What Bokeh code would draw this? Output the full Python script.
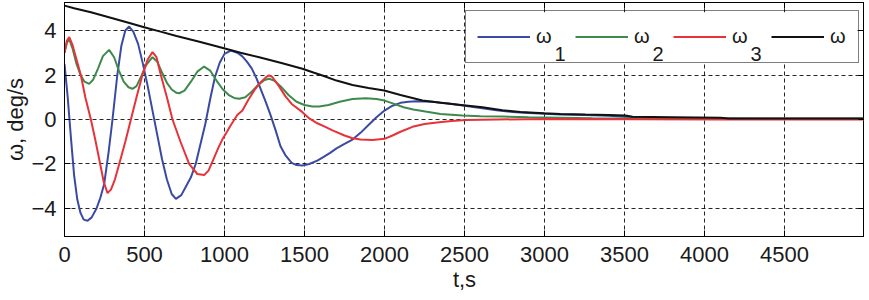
from bokeh.plotting import figure
from bokeh.models import (Range1d, LinearAxis, Legend, LegendItem, Label,
                          FixedTicker, BoxAnnotation)
from bokeh.embed import file_html
from bokeh.resources import INLINE

# ---------------- data ----------------
t_w1 = [0, 20, 40, 60, 80, 100, 120, 144, 170, 200, 225, 248, 275, 300, 330,
        355, 380, 404, 430, 460, 490, 520, 550, 580, 610, 640, 670, 696, 730,
        760, 790, 820, 850, 880, 910, 940, 970, 1000, 1040, 1080, 1110, 1140,
        1170, 1200, 1230, 1260, 1290, 1320, 1350, 1380, 1420, 1450, 1487, 1530,
        1580, 1620, 1660, 1700, 1750, 1800, 1850, 1900, 1950, 2000, 2050, 2100,
        2150, 2200, 2300, 2400, 2500, 2600, 2700, 2800, 2900, 3000, 3100, 3250,
        3400, 3500, 3600, 3800, 4100, 5000]
w1 = [2.5, 1.0, -0.8, -2.5, -3.6, -4.2, -4.5, -4.55, -4.4, -4.0, -3.5, -2.9,
      -1.5, 0.0, 2.0, 3.3, 4.0, 4.18, 3.95, 3.4, 2.5, 1.5, 0.4, -0.7, -1.8,
      -2.7, -3.35, -3.57, -3.4, -3.0, -2.6, -2.0, -1.1, -0.2, 0.9, 1.9, 2.55,
      2.95, 3.1, 3.0, 2.85, 2.6, 2.3, 1.85, 1.3, 0.75, 0.15, -0.5, -1.2, -1.6,
      -1.95, -2.05, -2.07, -2.0, -1.85, -1.68, -1.5, -1.3, -1.1, -0.9, -0.6,
      -0.25, 0.1, 0.4, 0.62, 0.75, 0.8, 0.82, 0.8, 0.72, 0.62, 0.52, 0.42,
      0.34, 0.29, 0.26, 0.23, 0.2, 0.17, 0.12, 0.07, 0.05, 0.04, 0.03]

t_w2 = [0, 15, 30, 50, 75, 100, 125, 154, 180, 210, 240, 279, 310, 340, 370,
        400, 425, 450, 480, 510, 550, 580, 610, 640, 670, 700, 717, 750, 790,
        830, 873, 910, 950, 990, 1030, 1060, 1092, 1130, 1170, 1210, 1250, 1279,
        1310, 1350, 1400, 1450, 1500, 1550, 1592, 1650, 1720, 1800, 1883, 1950,
        2000, 2060, 2120, 2180, 2256, 2350, 2487, 2600, 2737, 2900, 3100, 3300,
        3600, 4100, 5000]
w2 = [3.0, 3.45, 3.6, 3.2, 2.5, 2.0, 1.7, 1.6, 1.8, 2.3, 2.85, 3.13, 2.8, 2.2,
      1.7, 1.45, 1.38, 1.5, 1.95, 2.45, 2.8, 2.6, 2.1, 1.65, 1.35, 1.2, 1.18,
      1.3, 1.7, 2.15, 2.38, 2.2, 1.75, 1.35, 1.08, 0.97, 0.93, 1.0, 1.25, 1.55,
      1.78, 1.83, 1.75, 1.5, 1.1, 0.8, 0.65, 0.58, 0.58, 0.65, 0.8, 0.92,
      0.96, 0.92, 0.85, 0.7, 0.55, 0.45, 0.36, 0.25, 0.18, 0.15, 0.13, 0.1,
      0.08, 0.06, 0.05, 0.04, 0.03]

t_w3 = [0, 15, 30, 50, 75, 102, 130, 165, 195, 223, 245, 269, 290, 315, 342,
        380, 415, 450, 487, 520, 550, 575, 602, 640, 675, 725, 779, 830, 873,
        900, 930, 960, 990, 1008, 1040, 1080, 1112, 1150, 1190, 1230, 1260,
        1279, 1300, 1340, 1380, 1420, 1487, 1530, 1580, 1620, 1675, 1750, 1800,
        1850, 1925, 2000, 2050, 2100, 2175, 2250, 2342, 2420, 2508, 2700, 3000,
        4100, 5000]
w3 = [3.0, 3.55, 3.7, 3.35, 2.7, 2.0, 1.0, 0.0, -1.0, -2.0, -2.8, -3.31, -3.15,
      -2.7, -2.0, -1.0, 0.0, 1.0, 2.0, 2.7, 3.03, 2.8, 2.0, 1.0, 0.0, -1.0,
      -2.0, -2.45, -2.5, -2.3, -1.8, -1.3, -0.85, -0.64, -0.25, 0.2, 0.4, 0.9,
      1.35, 1.7, 1.9, 1.98, 1.9, 1.5, 1.05, 0.7, 0.33, 0.05, -0.17, -0.3,
      -0.49, -0.72, -0.84, -0.9, -0.92, -0.87, -0.72, -0.55, -0.33, -0.2,
      -0.12, -0.07, -0.02, 0.0, 0.02, 0.0, 0.0]

t_w = [0, 60, 165, 300, 400, 498, 600, 700, 831, 920, 1008, 1100, 1217, 1350,
       1487, 1560, 1612, 1700, 1800, 1900, 1998, 2100, 2237, 2350, 2508, 2612,
       2737, 2850, 2998, 3100, 3256, 3400, 3506, 3550, 3800, 4100, 4150, 5000]
w = [5.12, 5.0, 4.82, 4.55, 4.35, 4.15, 3.95, 3.75, 3.52, 3.35, 3.18, 3.0, 2.8,
     2.55, 2.28, 2.1, 1.98, 1.75, 1.55, 1.42, 1.3, 1.1, 0.85, 0.75, 0.63,
     0.55, 0.42, 0.34, 0.28, 0.25, 0.22, 0.2, 0.18, 0.12, 0.1, 0.08, 0.05, 0.05]

x_ticks = [0, 500, 1000, 1500, 2000, 2500, 3000, 3500, 4000, 4500]
y_ticks = [-4, -2, 0, 2, 4]
legend_names = ["ω", "ω", "ω", "ω"]
legend_subs = ["1", "2", "3"]
x_title = "t,s"
y_title = "ω, deg/s"

FONT = "Liberation Sans"
TXT = "#1a1a1a"
C_BLUE, C_GREEN, C_RED, C_BLACK = "#3a4aa3", "#3e8a4c", "#e8323a", "#111111"

p = figure(width=864, height=298, x_range=Range1d(0, 5000),
           y_range=Range1d(-5.26, 5.26), output_backend="svg",
           toolbar_location=None, min_border_left=62, min_border_right=0,
           min_border_top=2, min_border_bottom=62)

# white backing for the legend box (drawn above the grid, below the curves)
p.add_layout(BoxAnnotation(left=401, right=793, bottom=173, top=224,
                           left_units="screen", right_units="screen",
                           bottom_units="screen", top_units="screen",
                           fill_color="white", fill_alpha=1,
                           line_color=None, level="underlay"))

r1 = p.line(t_w1, w1, line_color=C_BLUE, line_width=2)
r2 = p.line(t_w2, w2, line_color=C_GREEN, line_width=2)
r3 = p.line(t_w3, w3, line_color=C_RED, line_width=2)
r4 = p.line(t_w, w, line_color=C_BLACK, line_width=2)

p.outline_line_color = "black"
p.outline_line_width = 1

for ax in (p.xaxis[0], p.yaxis[0]):
    ax.axis_line_color = "black"
    ax.major_tick_in = 6
    ax.major_tick_out = 0
    ax.minor_tick_line_color = None
    ax.major_tick_line_color = "black"
    ax.major_label_text_font = FONT
    ax.major_label_text_font_size = "22px"
    ax.major_label_text_color = TXT
    ax.axis_label_text_font = FONT
    ax.axis_label_text_font_size = "22px"
    ax.axis_label_text_font_style = "normal"
    ax.axis_label_text_color = TXT

p.xaxis[0].ticker = FixedTicker(ticks=x_ticks)
p.yaxis[0].ticker = FixedTicker(ticks=y_ticks)
p.xaxis[0].axis_label = x_title
p.xaxis[0].major_label_standoff = 10
p.xaxis[0].axis_label_standoff = 2
p.yaxis[0].axis_label = y_title
p.yaxis[0].major_label_standoff = 8
p.yaxis[0].axis_label_standoff = 0

# ticks on the top and right edges (no labels)
for side, tk in (("right", y_ticks), ("above", x_ticks)):
    ax = LinearAxis(ticker=FixedTicker(ticks=tk),
                    major_label_overrides={t: "" for t in tk})
    ax.major_label_text_font_size = "1px"
    ax.major_label_standoff = 0
    ax.major_tick_in = 6
    ax.major_tick_out = 0
    ax.minor_tick_line_color = None
    ax.axis_line_color = "black"
    p.add_layout(ax, side)

for g in (p.xgrid[0], p.ygrid[0]):
    g.grid_line_color = "black"
    g.grid_line_dash = "4 3"
    g.grid_line_width = 1
    g.grid_line_alpha = 0.85
p.xgrid[0].ticker = FixedTicker(ticks=x_ticks)
p.ygrid[0].ticker = FixedTicker(ticks=y_ticks)

legend = Legend(items=[LegendItem(label=legend_names[i], renderers=[r])
                       for i, r in enumerate([r1, r2, r3, r4])],
                orientation="horizontal", location=(401, 173))
legend.glyph_width = 53
legend.glyph_height = 29
legend.label_height = 29
legend.label_standoff = 6
legend.spacing = 22
legend.padding = 11
legend.margin = 0
legend.label_width = 17
legend.label_text_font = FONT
legend.label_text_font_size = "20px"
legend.label_text_color = TXT
legend.border_line_color = "black"
legend.border_line_width = 1
legend.background_fill_alpha = 0
p.add_layout(legend)

for i, s in enumerate(legend_subs):
    p.add_layout(Label(x=490 + 98 * i, y=183, x_units="screen",
                       y_units="screen", text=s, text_font=FONT,
                       text_font_size="20px", text_color=TXT,
                       text_baseline="alphabetic", level="overlay"))

open("out.html", "w").write(file_html(p, INLINE))
